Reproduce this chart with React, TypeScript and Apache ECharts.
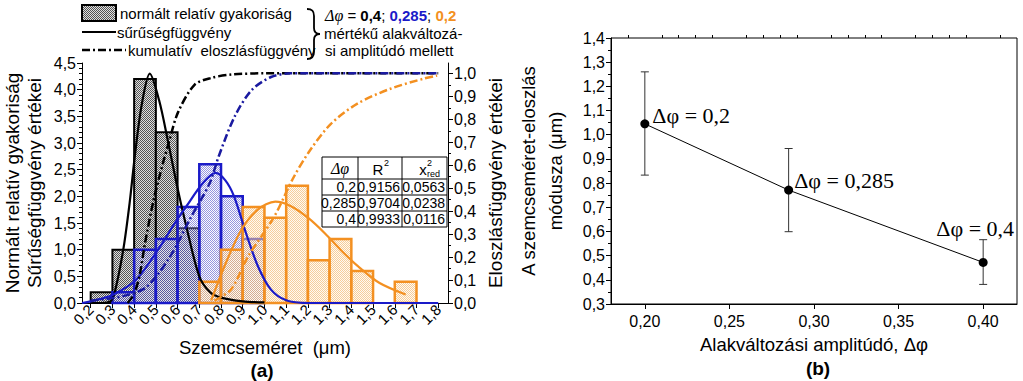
import React, { useEffect, useRef } from 'react';
import * as echarts from 'echarts';

// ---------- DATA ----------
const BIN_WIDTH = 0.1;
// Δφ = 0,4 (black)
const binStarts04 = [0.2, 0.3, 0.4, 0.5, 0.6];
const freq04 = [0.2, 1.0, 4.2, 3.2, 1.4];
// Δφ = 0,285 (blue)
const binStarts0285 = [0.3, 0.4, 0.5, 0.6, 0.7, 0.8, 0.9];
const freq0285 = [0.2, 1.0, 1.2, 1.8, 2.6, 2.0, 1.2];
// Δφ = 0,2 (orange)
const binStarts02 = [0.7, 0.8, 0.9, 1.0, 1.1, 1.2, 1.3, 1.4, 1.5, 1.6];
const freq02 = [0.4, 1.0, 1.8, 1.6, 2.2, 0.8, 1.2, 0.6, 0, 0.4];

// density functions (x, value)
const density04 = [[0.25, 0], [0.29, 0.03], [0.31, 0.19], [0.35, 1.0], [0.38, 1.9], [0.403, 2.75], [0.435, 3.72], [0.472, 4.3], [0.515, 3.8], [0.556, 3.03], [0.6, 2.15], [0.64, 1.44], [0.7, 0.5], [0.75, 0.2], [0.8, 0.1], [0.9, 0.03], [1.0, 0.01]];
const density0285 = [[0.16, 0], [0.2, 0.03], [0.3, 0.15], [0.41, 0.44], [0.52, 1.06], [0.58, 1.45], [0.64, 1.81], [0.717, 2.25], [0.775, 2.44], [0.82, 2.3], [0.86, 2.0], [0.915, 1.31], [0.97, 0.69], [1.03, 0.25], [1.1, 0.05], [1.2, 0.0], [1.8, 0.0]];
const density02 = [[0.755, 0.05], [0.816, 0.69], [0.893, 1.37], [0.969, 1.75], [1.05, 1.9], [1.12, 1.82], [1.2, 1.6], [1.28, 1.3], [1.35, 1.0], [1.43, 0.69], [1.53, 0.375], [1.65, 0.16]];

// cumulative distribution functions (x, value)
const cumul04 = [[0.37, 0], [0.4, 0.04], [0.425, 0.12], [0.45, 0.26], [0.49, 0.45], [0.533, 0.61], [0.56, 0.7], [0.602, 0.83], [0.678, 0.95], [0.755, 0.98], [0.85, 0.995], [1.0, 1.0], [1.8, 1.0]];
const cumul0285 = [[0.2, 0.01], [0.35, 0.03], [0.457, 0.07], [0.564, 0.2], [0.663, 0.376], [0.747, 0.52], [0.79, 0.64], [0.862, 0.81], [0.94, 0.926], [1.03, 0.984], [1.12, 1.0], [1.8, 1.0]];
const cumul02 = [[0.77, 0.01], [0.847, 0.06], [0.923, 0.2], [1.045, 0.376], [1.13, 0.54], [1.21, 0.665], [1.306, 0.78], [1.428, 0.868], [1.58, 0.933], [1.734, 0.977], [1.795, 0.99]];

// fit-quality table
const tableDphi = ['0,2', '0,285', '0,4'];
const tableR2 = ['0,9156', '0,9704', '0,9933'];
const tableChi = ['0,0563', '0,0238', '0,0116'];

// chart (b): mode vs amplitude
const amplitudes = [0.2, 0.285, 0.4];
const modes = [1.045, 0.771, 0.472];
const modeLow = [0.833, 0.599, 0.381];
const modeHigh = [1.26, 0.943, 0.566];
const pointLabels = ['Δφ = 0,2', 'Δφ = 0,285', 'Δφ = 0,4'];

// tick labels
const xTicksA = [0.2, 0.3, 0.4, 0.5, 0.6, 0.7, 0.8, 0.9, 1.0, 1.1, 1.2, 1.3, 1.4, 1.5, 1.6, 1.7, 1.8];
const rightTicksA = [0, 0.1, 0.2, 0.3, 0.4, 0.5, 0.6, 0.7, 0.8, 0.9, 1.0];
const xTicksB = [0.2, 0.25, 0.3, 0.35, 0.4];

// ---------- STYLE ----------
const SANS = '"Liberation Sans", Arial, sans-serif';
const SERIF = '"Liberation Serif", "Times New Roman", serif';
const BLUE = '#1a1ac8';
const ORANGE = '#f39021';

function checker(dark: string, light: string) {
  const svg = `<svg xmlns='http://www.w3.org/2000/svg' width='2' height='2'><rect width='2' height='2' fill='${light}'/><rect width='1' height='1' fill='${dark}'/><rect x='1' y='1' width='1' height='1' fill='${dark}'/></svg>`;
  return { image: 'data:image/svg+xml;charset=utf-8,' + encodeURIComponent(svg), repeat: 'repeat', imageWidth: 2, imageHeight: 2 } as any;
}
const fillBlack = checker('#555555', '#e0e0e0');
const fillBlue = checker('rgba(50,50,190,0.5)', 'rgba(240,240,255,0.25)');
const fillOrange = checker('rgba(235,150,50,0.45)', 'rgba(255,245,225,0.45)');

const fmt = (d: number) => (v: number) => Number(v).toFixed(d).replace('.', ',');

function histSeries(starts: number[], heights: number[], fill: any, stroke: string, lw: number, z: number) {
  return {
    type: 'custom',
    xAxisIndex: 0,
    yAxisIndex: 0,
    z,
    data: starts.map((s, i) => [s, s + BIN_WIDTH, heights[i]]),
    encode: { x: [0, 1], y: 2 },
    renderItem: (_p: any, api: any) => {
      if (api.value(2) <= 0) return null;
      const a = api.coord([api.value(0), api.value(2)]);
      const b = api.coord([api.value(1), 0]);
      return {
        type: 'rect',
        shape: { x: a[0], y: a[1], width: b[0] - a[0], height: b[1] - a[1] },
        style: { fill, stroke, lineWidth: lw },
      };
    },
  };
}

function lineSeries(data: number[][], color: string, yAxisIndex: number, dashed: boolean, z: number) {
  return {
    type: 'line',
    xAxisIndex: 0,
    yAxisIndex,
    z,
    data,
    smooth: 0.3,
    symbol: 'none',
    lineStyle: dashed ? { color, width: 2.5, type: [8, 3, 2, 3] } : { color, width: 2.2 },
  };
}

function minorValues(min: number, max: number, step: number, skipEvery: number) {
  const out: number[] = [];
  const n = Math.round((max - min) / step);
  for (let i = 0; i <= n; i++) {
    const v = Math.round((min + i * step) * 1000) / 1000;
    if (Math.abs(Math.round(v / skipEvery) * skipEvery - v) < 1e-6) continue;
    out.push(v);
  }
  return out;
}

export default function App() {
  const ref = useRef<HTMLDivElement>(null);
  useEffect(() => {
    if (!ref.current) return;
    echarts.graphic.registerShape('brace', echarts.graphic.extendPath('M0 0 C5 0 7 2 7 7 L7 19 C7 23 9 25 13 25 C9 25 7 27 7 31 L7 43 C7 48 5 50 0 50', {}) as any);
    const chart = echarts.init(ref.current, null, { renderer: 'svg' });
    const minorRightA = rightTicksA.slice(0, -1).map((v) => Math.round((v + 0.05) * 100) / 100);
    const minorXB = minorValues(0.19, 0.41, 0.01, 0.05);
    const tickLine = { lineStyle: { color: '#000', width: 1 } };
    const labelBase = { color: '#000', fontFamily: SANS, fontSize: 16 };
    const nameBase = { color: '#000', fontFamily: SANS, fontSize: 18.5 };

    const option: any = {
      animation: false,
      backgroundColor: '#fff',
      grid: [
        { left: 80, top: 63, width: 368, height: 240, show: false },
        { left: 611, top: 38, width: 406, height: 266, show: true, borderColor: '#000', borderWidth: 1, backgroundColor: 'transparent' },
      ],
      xAxis: [
        {
          type: 'value', gridIndex: 0, min: 0.16, max: 1.845,
          axisLine: { show: true, onZero: false, ...tickLine },
          axisTick: { show: true, customValues: xTicksA, length: 5, ...tickLine },
          axisLabel: { ...labelBase, fontSize: 15, customValues: xTicksA, rotate: 45, margin: 4, formatter: fmt(1) },
          splitLine: { show: false },
          name: 'Szemcseméret  (μm)', nameLocation: 'middle', nameGap: 35, nameTextStyle: nameBase,
        },
        {
          type: 'value', gridIndex: 1, min: 0.18, max: 0.42,
          axisLine: { show: true, onZero: false, ...tickLine },
          axisTick: { show: true, customValues: xTicksB, length: 5, ...tickLine },
          axisLabel: { ...labelBase, customValues: xTicksB, margin: 9, formatter: fmt(2) },
          splitLine: { show: false },
          name: 'Alakváltozási amplitúdó, Δφ', nameLocation: 'middle', nameGap: 31, nameTextStyle: nameBase,
        },
        {
          type: 'value', gridIndex: 1, min: 0.18, max: 0.42,
          axisLine: { show: false },
          axisTick: { show: true, customValues: minorXB, length: 3, ...tickLine },
          axisLabel: { show: false },
          splitLine: { show: false },
        },
      ],
      yAxis: [
        {
          type: 'value', gridIndex: 0, min: 0, max: 4.5, interval: 0.5, position: 'left',
          axisLine: { show: true, onZero: false, ...tickLine },
          axisTick: { show: true, length: 5, ...tickLine },
          minorTick: { show: true, splitNumber: 5, length: 3, ...tickLine },
          axisLabel: { ...labelBase, margin: 6, formatter: fmt(1) },
          splitLine: { show: false },
          name: 'Normált relatív gyakoriság\nSűrűségfüggvény értékei', nameLocation: 'middle', nameRotate: 90, nameGap: 37,
          nameTextStyle: { ...nameBase, fontSize: 19, lineHeight: 22 },
        },
        {
          type: 'value', gridIndex: 0, min: 0, max: 1.045, position: 'right',
          axisLine: { show: true, onZero: false, ...tickLine },
          axisTick: { show: true, customValues: rightTicksA, length: 5, ...tickLine },
          axisLabel: { ...labelBase, customValues: rightTicksA, margin: 6, formatter: fmt(1) },
          splitLine: { show: false },
          name: 'Eloszlásfüggvény értékei', nameLocation: 'middle', nameRotate: 90, nameGap: 38, nameTextStyle: { ...nameBase, fontSize: 19 },
        },
        {
          type: 'value', gridIndex: 0, min: 0, max: 1.045, position: 'right',
          axisLine: { show: false },
          axisTick: { show: true, customValues: minorRightA, length: 3, ...tickLine },
          axisLabel: { show: false },
          splitLine: { show: false },
        },
        {
          type: 'value', gridIndex: 1, min: 0.3, max: 1.4, interval: 0.1,
          axisLine: { show: true, onZero: false, ...tickLine },
          axisTick: { show: true, length: 5, ...tickLine },
          minorTick: { show: true, splitNumber: 2, length: 3, ...tickLine },
          axisLabel: { ...labelBase, margin: 6, formatter: fmt(1) },
          splitLine: { show: false },
          name: 'A szemcseméret-eloszlás\nmódusza (μm)', nameLocation: 'middle', nameRotate: 90, nameGap: 42,
          nameTextStyle: { ...nameBase, lineHeight: 27 },
        },
      ],
      series: [
        histSeries(binStarts04, freq04, fillBlack, '#000', 2, 1),
        histSeries(binStarts0285, freq0285, fillBlue, BLUE, 2.5, 2),
        histSeries(binStarts02, freq02, fillOrange, ORANGE, 2.5, 3),
        lineSeries(density04, '#000', 0, false, 5),
        lineSeries(density0285, BLUE, 0, false, 5),
        lineSeries(density02, ORANGE, 0, false, 5),
        lineSeries(cumul04, '#000', 1, true, 6),
        lineSeries(cumul0285, '#1a1aa0', 1, true, 6),
        lineSeries(cumul02, ORANGE, 1, true, 6),
        {
          type: 'custom', xAxisIndex: 1, yAxisIndex: 3, z: 4,
          data: amplitudes.map((a, i) => [a, modeLow[i], modeHigh[i]]),
          encode: { x: 0, y: [1, 2] },
          renderItem: (_p: any, api: any) => {
            const lo = api.coord([api.value(0), api.value(1)]);
            const hi = api.coord([api.value(0), api.value(2)]);
            const st = { stroke: '#333', lineWidth: 1 };
            return {
              type: 'group',
              children: [
                { type: 'line', shape: { x1: lo[0], y1: lo[1], x2: hi[0], y2: hi[1] }, style: st },
                { type: 'line', shape: { x1: lo[0] - 4, y1: lo[1], x2: lo[0] + 4, y2: lo[1] }, style: st },
                { type: 'line', shape: { x1: hi[0] - 4, y1: hi[1], x2: hi[0] + 4, y2: hi[1] }, style: st },
              ],
            };
          },
        },
        {
          type: 'line', xAxisIndex: 1, yAxisIndex: 3, z: 5,
          symbol: 'circle', symbolSize: 9,
          itemStyle: { color: '#000' },
          lineStyle: { color: '#000', width: 1 },
          data: amplitudes.map((a, i) => {
            const pos = [
              { position: 'right', distance: 3, offset: [0, -8] },
              { position: 'right', distance: 1, offset: [0, -10] },
              { position: 'top', distance: 18, offset: [-8, 0] },
            ][i];
            return { value: [a, modes[i]], label: { show: true, formatter: pointLabels[i], ...pos } };
          }),
          label: { color: '#000', fontFamily: SERIF, fontSize: 22 },
        },
      ],
      graphic: [
        // legend of (a)
        { type: 'rect', shape: { x: 82, y: 5, width: 34, height: 16 }, style: { fill: fillBlack, stroke: '#000', lineWidth: 2 } },
        { type: 'line', shape: { x1: 82, y1: 32, x2: 116, y2: 32 }, style: { stroke: '#000', lineWidth: 2 } },
        { type: 'line', shape: { x1: 82, y1: 50, x2: 126, y2: 50 }, style: { stroke: '#000', lineWidth: 2.5, lineDash: [8, 3, 2, 3] } },
        { type: 'text', x: 120, y: 13, style: { text: 'normált relatív gyakoriság', fontSize: 15, fontFamily: SANS, fill: '#000', verticalAlign: 'middle' } },
        { type: 'text', x: 117, y: 32, style: { text: 'sűrűségfüggvény', fontSize: 15, fontFamily: SANS, fill: '#000', verticalAlign: 'middle' } },
        { type: 'text', x: 128, y: 50, style: { text: 'kumulatív  eloszlásfüggvény', fontSize: 15, fontFamily: SANS, fill: '#000', verticalAlign: 'middle' } },
        { type: 'brace', x: 307, y: 9, style: { fill: 'none', stroke: '#000', lineWidth: 1.8 } },
        {
          type: 'text', x: 325, y: 15,
          style: {
            text: '{i|Δφ} = {k|0,4}; {b|0,285}; {o|0,2}', fontSize: 15, fontFamily: SANS, fill: '#000', verticalAlign: 'middle',
            rich: {
              i: { fontFamily: SERIF, fontStyle: 'italic', fontSize: 16, fill: '#000' },
              k: { fontWeight: 'bold', fontSize: 15, fontFamily: SANS, fill: '#000' },
              b: { fontWeight: 'bold', fontSize: 15, fontFamily: SANS, fill: BLUE },
              o: { fontWeight: 'bold', fontSize: 15, fontFamily: SANS, fill: ORANGE },
            },
          },
        },
        { type: 'text', x: 324, y: 33, style: { text: 'mértékű alakváltozá-', fontSize: 15, fontFamily: SANS, fill: '#000', verticalAlign: 'middle' } },
        { type: 'text', x: 325, y: 50, style: { text: 'si amplitúdó mellett', fontSize: 15, fontFamily: SANS, fill: '#000', verticalAlign: 'middle' } },
        // table
        {
          type: 'group', x: 322, y: 157, z: 20,
          children: [
            { type: 'rect', shape: { x: 0, y: 0, width: 125, height: 70 }, style: { fill: '#fff', stroke: '#000', lineWidth: 1 } },
            { type: 'line', shape: { x1: 36, y1: 0, x2: 36, y2: 70 }, style: { stroke: '#000', lineWidth: 1 } },
            { type: 'line', shape: { x1: 80, y1: 0, x2: 80, y2: 70 }, style: { stroke: '#000', lineWidth: 1 } },
            { type: 'line', shape: { x1: 0, y1: 22, x2: 125, y2: 22 }, style: { stroke: '#000', lineWidth: 1 } },
            { type: 'line', shape: { x1: 0, y1: 38, x2: 125, y2: 38 }, style: { stroke: '#000', lineWidth: 1 } },
            { type: 'line', shape: { x1: 0, y1: 54, x2: 125, y2: 54 }, style: { stroke: '#000', lineWidth: 1 } },
            { type: 'text', x: 18, y: 11, style: { text: 'Δφ', fontSize: 16, fontFamily: SERIF, fontStyle: 'italic', fill: '#000', align: 'center', verticalAlign: 'middle' } },
            { type: 'text', x: 56, y: 12, style: { text: 'R', fontSize: 15, fontFamily: SANS, fill: '#000', align: 'center', verticalAlign: 'middle' } },
            { type: 'text', x: 62, y: 6, style: { text: '2', fontSize: 9, fontFamily: SANS, fill: '#000', verticalAlign: 'middle' } },
            { type: 'text', x: 101, y: 12, style: { text: 'x', fontSize: 15, fontFamily: SANS, fill: '#000', align: 'center', verticalAlign: 'middle' } },
            { type: 'text', x: 105, y: 6, style: { text: '2', fontSize: 9, fontFamily: SANS, fill: '#000', verticalAlign: 'middle' } },
            { type: 'text', x: 105, y: 17, style: { text: 'red', fontSize: 9, fontFamily: SANS, fill: '#000', verticalAlign: 'middle' } },
            ...tableDphi.flatMap((d, i) => {
              const y = 30 + i * 16;
              return [
                { type: 'text', x: 34, y, style: { text: d, fontSize: 14, fontFamily: SANS, fill: '#000', align: 'right', verticalAlign: 'middle' } },
                { type: 'text', x: 78, y, style: { text: tableR2[i], fontSize: 14, fontFamily: SANS, fill: '#000', align: 'right', verticalAlign: 'middle' } },
                { type: 'text', x: 123, y, style: { text: tableChi[i], fontSize: 14, fontFamily: SANS, fill: '#000', align: 'right', verticalAlign: 'middle' } },
              ];
            }),
          ],
        },
        { type: 'text', x: 262, y: 370, style: { text: '(a)', fontSize: 19, fontWeight: 'bold', fontFamily: SANS, fill: '#000', align: 'center', verticalAlign: 'middle' } },
        { type: 'text', x: 818, y: 368, style: { text: '(b)', fontSize: 19, fontWeight: 'bold', fontFamily: SANS, fill: '#000', align: 'center', verticalAlign: 'middle' } },
      ],
    };
    chart.setOption(option);
    return () => chart.dispose();
  }, []);
  return <div ref={ref} style={{ position: 'absolute', left: 0, top: 0, width: 1023, height: 381, background: '#fff' }} />;
}
